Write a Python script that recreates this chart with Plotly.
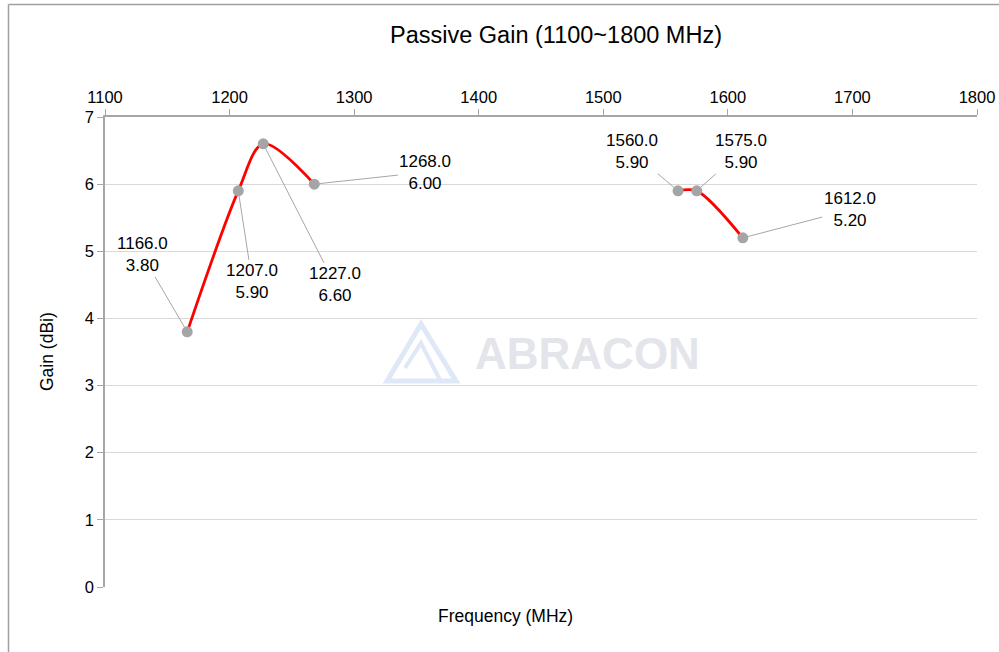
import plotly.graph_objects as go

# Data
band1_freq = [1166.0, 1207.0, 1227.0, 1268.0]
band1_gain = [3.80, 5.90, 6.60, 6.00]
band2_freq = [1560.0, 1575.0, 1612.0]
band2_gain = [5.90, 5.90, 5.20]
x_ticks = [1100, 1200, 1300, 1400, 1500, 1600, 1700, 1800]
y_ticks = [0, 1, 2, 3, 4, 5, 6, 7]

# label offsets (pixels) for each point's callout
label_offsets = [(-45, -77), (14, 91), (72, 141), (111, -12), (-46, -39), (44, -39), (107, -28)]

FONT = "Liberation Sans, Arial, sans-serif"
W, H = 999, 652
L, R, T, B = 105, 22, 117, 65
pw, ph = W - L - R, H - T - B

fig = go.Figure()
for fx, gy in [(band1_freq, band1_gain), (band2_freq, band2_gain)]:
    fig.add_trace(go.Scatter(x=fx, y=gy, mode="lines",
                             line=dict(color="#ff0000", width=2.8, shape="spline", smoothing=0.9),
                             showlegend=False, hoverinfo="skip"))
all_f = band1_freq + band2_freq
all_g = band1_gain + band2_gain
fig.add_trace(go.Scatter(x=all_f, y=all_g, mode="markers",
                         marker=dict(color="#a5a5a5", size=11),
                         showlegend=False))

for (f, g), (ax, ay) in zip(zip(all_f, all_g), label_offsets):
    fig.add_annotation(x=f, y=g, xref="x", yref="y", text=f"{f:.1f}<br>{g:.2f}",
                       showarrow=True, arrowhead=0, arrowwidth=1, arrowcolor="#a6a6a6",
                       ax=ax, ay=ay, standoff=5,
                       font=dict(family=FONT, size=17, color="#000000"))

def px_x(p):
    return (p - L) / pw

def px_y(p):
    return 1 - (p - T) / ph

common = dict(xref="paper", yref="paper", showarrow=False, xanchor="center", yanchor="middle")
# Title
fig.add_annotation(text="Passive Gain (1100~1800 MHz)", x=px_x(556), y=px_y(35),
                   font=dict(family=FONT, size=23.5, color="#000000"), **common)
# x-axis title (bottom)
fig.add_annotation(text="Frequency (MHz)", x=px_x(505), y=px_y(616),
                   font=dict(family=FONT, size=17.5, color="#000000"), **common)
# y-axis title
fig.add_annotation(text="Gain (dBi)", textangle=-90, x=px_x(47), y=px_y(352),
                   font=dict(family=FONT, size=17.5, color="#000000"), **common)
# Watermark
fig.add_annotation(text="<b>ABRACON</b>", x=px_x(587), y=px_y(353),
                   font=dict(family=FONT, size=44, color="#e3e5eb"), **common)

shapes = []
# outer chart border (left and top)
shapes.append(dict(type="line", xref="paper", yref="paper", x0=px_x(8.5), x1=px_x(8.5),
                   y0=px_y(4.5), y1=px_y(660), line=dict(color="#a0a0a0", width=1.5)))
shapes.append(dict(type="line", xref="paper", yref="paper", x0=px_x(8.5), x1=px_x(1010),
                   y0=px_y(4.5), y1=px_y(4.5), line=dict(color="#a0a0a0", width=1.5)))
# watermark logo
logo = "M {} {} L {} {} L {} {} Z".format(px_x(387), px_y(381), px_x(421), px_y(324), px_x(456), px_y(381))
shapes.append(dict(type="path", xref="paper", yref="paper",
                   path=logo, line=dict(color="#dfe8f6", width=5), fillcolor="rgba(0,0,0,0)", layer="below"))
inner = "M {} {} L {} {} L {} {}".format(px_x(405), px_y(368), px_x(421), px_y(343), px_x(440), px_y(380))
shapes.append(dict(type="path", xref="paper", yref="paper",
                   path=inner, line=dict(color="#dfe8f6", width=4), layer="below"))
fig.update_layout(shapes=shapes)

fig.update_layout(
    width=W, height=H,
    margin=dict(l=L, r=R, t=T, b=B, pad=0, autoexpand=False),
    paper_bgcolor="white", plot_bgcolor="white",
    font=dict(family=FONT, size=16.5, color="#000000"),
    xaxis=dict(range=[1100, 1800], side="top", tickvals=x_ticks, ticktext=[str(v) for v in x_ticks],
               showgrid=False, zeroline=False, showline=True, linecolor="#a6a6a6", linewidth=1.5,
               ticks="outside", ticklen=6, tickcolor="#a6a6a6", tickfont=dict(size=16.5),
               automargin=False),
    yaxis=dict(range=[0, 7], tickvals=y_ticks, showgrid=True, gridcolor="#d9d9d9", gridwidth=1,
               zeroline=False, showline=True, linecolor="#a6a6a6", linewidth=1.5,
               ticks="outside", ticklen=6, tickcolor="#a6a6a6", tickfont=dict(size=16.5),
               automargin=False),
)

fig.write_html("out.html", config={"displayModeBar": False},
               post_script="document.body.style.margin='0';document.body.style.overflow='hidden';")
